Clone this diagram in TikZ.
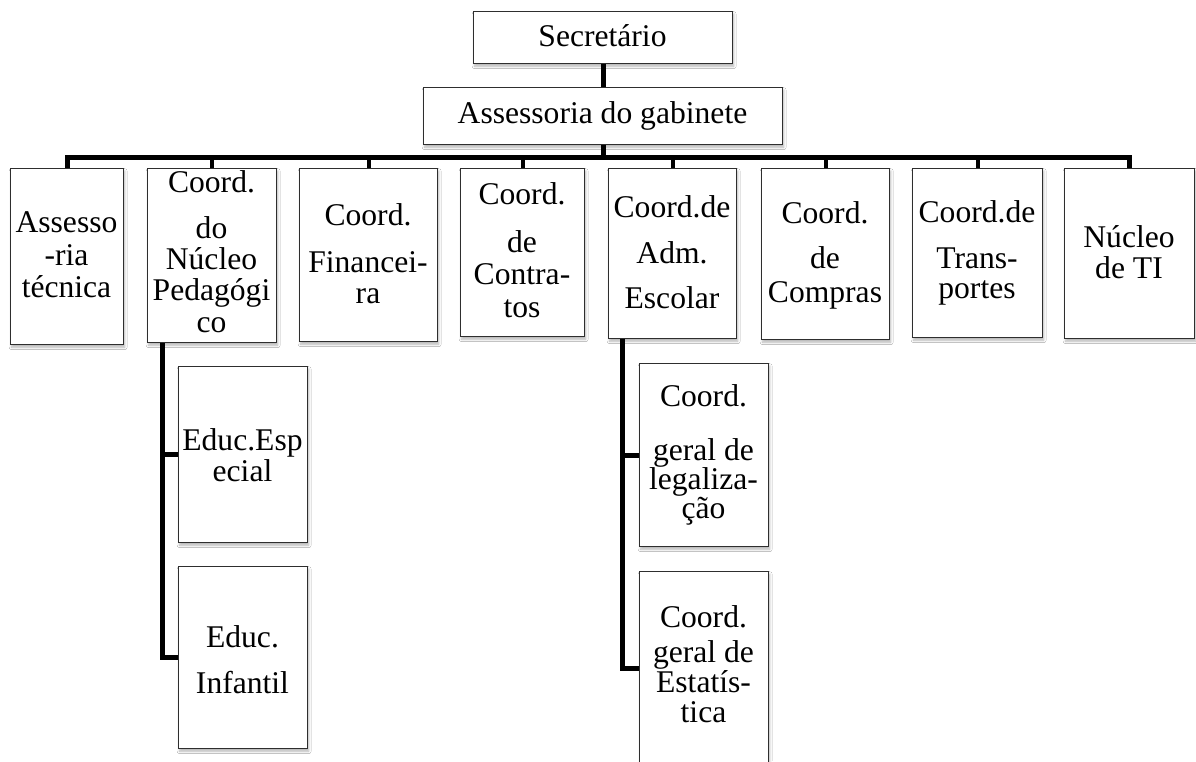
\documentclass[tikz,border=0pt]{standalone}
\usepackage{fontspec}
\setmainfont{Liberation Serif}
\usetikzlibrary{shadows.blur}
\newcommand\bt[1]{\vtop{\hsize=400pt\centering\baselineskip=0pt\lineskiplimit=-1000pt\lineskip=0pt #1\par}}
\begin{document}
\begin{tikzpicture}[x=1pt,y=-1pt,
  box/.style={draw=black!82,line width=1.3pt,fill=white,inner sep=0pt,anchor=north west,
    blur shadow={shadow xshift=1pt,shadow yshift=-2.5pt,shadow blur radius=2.5pt,shadow opacity=30}},
  txt/.style={anchor=base,inner sep=0pt,font=\fontsize{31.6}{32}\selectfont},
  main/.style={line width=5pt,black,line join=miter},
  stub/.style={line width=4pt,black}]
\clip (0,0) rectangle (1196,761);
\fill[white] (0,0) rectangle (1196,761);
% boxes
\node[box,minimum width=259pt,minimum height=52pt] (sec) at (473,11) {};
\node[box,minimum width=359pt,minimum height=57pt] (ass) at (423,87) {};
\node[box,minimum width=113pt,minimum height=176pt] (at) at (10,168) {};
\node[box,minimum width=129pt,minimum height=174pt] (np) at (147,168) {};
\node[box,minimum width=138pt,minimum height=173pt] (fin) at (299,168) {};
\node[box,minimum width=124pt,minimum height=168pt] (con) at (460,168) {};
\node[box,minimum width=128pt,minimum height=170pt] (adm) at (608,168) {};
\node[box,minimum width=128pt,minimum height=171pt] (com) at (761,168) {};
\node[box,minimum width=130pt,minimum height=169pt] (tra) at (912,168) {};
\node[box,minimum width=130pt,minimum height=170pt] (ti) at (1064,168) {};
\node[box,minimum width=129pt,minimum height=176pt] (esp) at (178,366) {};
\node[box,minimum width=129pt,minimum height=182pt] (inf) at (178,566) {};
\node[box,minimum width=129pt,minimum height=183pt] (leg) at (639,363) {};
\node[box,minimum width=129pt,minimum height=194pt] (est) at (639,571) {};
% connectors
\coordinate (busy) at (0,157);
\draw[main] (sec.south) -- (ass.north);
\draw[main] (ass.south) -- (ass.south |- busy);
\draw[main] (at.north) -- (at.north |- busy) -- (ti.north |- busy) -- (ti.north);
\foreach \n in {np,fin,con,adm,com,tra} \draw[stub] (\n.north) -- (\n.north |- busy);
\coordinate (npx) at ([xshift=15pt]np.south west);
\draw[main] (npx) -- (npx |- inf.west) -- (inf.west);
\draw[main] (npx |- esp.west) -- (esp.west);
\coordinate (admx) at ([xshift=14pt]adm.south west);
\draw[main] (admx) -- (admx |- est.west) -- (est.west);
\draw[main] (admx |- leg.west) -- (leg.west);
% texts
\node[txt] (tsec) at (602.5,46) {\bt{Secretário}};
\node[txt] (tass) at (602.5,123) {\bt{Assessoria do gabinete}};
\node[txt] (tat) at (66.5,232) {\bt{Assesso\\[33pt]-ria\\[32pt]técnica}};
\node[txt] (tnp) at (211.5,192) {\bt{Coord.\\[46pt]do\\[31pt]Núcleo\\[31pt]Pedagógi\\[32pt]co}};
\node[txt] (tfin) at (368,225) {\bt{Coord.\\[47pt]Financei-\\[31pt]ra}};
\node[txt] (tcon) at (522,204) {\bt{Coord.\\[48pt]de\\[32pt]Contra-\\[33pt]tos}};
\node[txt] (tadm) at (672,217) {\bt{Coord.de\\[46pt]Adm.\\[45pt]Escolar}};
\node[txt] (tcom) at (825,223) {\bt{Coord.\\[45pt]de\\[34pt]Compras}};
\node[txt] (ttra) at (977,222) {\bt{Coord.de\\[46pt]Trans-\\[30pt]portes}};
\node[txt] (tti) at (1129,247) {\bt{Núcleo\\[31pt]de TI}};
\node[txt] (tesp) at (242.5,450) {\bt{Educ.Esp\\[31pt]ecial}};
\node[txt] (tinf) at (242.5,647) {\bt{Educ.\\[46pt]Infantil}};
\node[txt] (tleg) at (703.5,406) {\bt{Coord.\\[54pt]geral de\\[29pt]legaliza-\\[29pt]ção}};
\node[txt] (test) at (703.5,627) {\bt{Coord.\\[35pt]geral de\\[30pt]Estatís-\\[30pt]tica}};
\end{tikzpicture}
\end{document}
